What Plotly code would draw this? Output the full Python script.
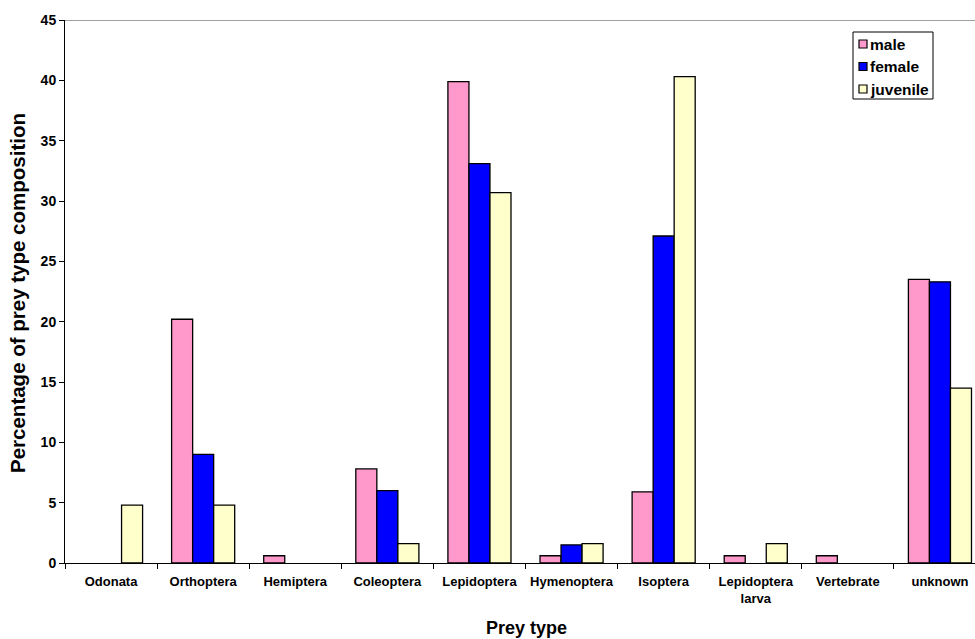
import plotly.graph_objects as go

categories = ["Odonata", "Orthoptera", "Hemiptera", "Coleoptera", "Lepidoptera",
              "Hymenoptera", "Isoptera", "Lepidoptera<br>larva", "Vertebrate", "unknown"]
male = [0, 20.2, 0.6, 7.8, 39.9, 0.6, 5.9, 0.6, 0.6, 23.5]
female = [0, 9.0, 0, 6.0, 33.1, 1.5, 27.1, 0, 0, 23.3]
juvenile = [4.8, 4.8, 0, 1.6, 30.7, 1.6, 40.3, 1.6, 0, 14.5]
series_names = ["male", "female", "juvenile"]
colors = ["#FF99CC", "#0000FF", "#FFFFCC"]

font_family = "Liberation Sans, Arial, sans-serif"

# page pixel positions of the plot area (it runs past the right edge, as in the reference)
PLOT_L, PLOT_R, PLOT_T, PLOT_B = 65, 986, 20, 563
W, H = 988, 639
ML, MT = PLOT_L, PLOT_T
MR = W - PLOT_R
MB = H - PLOT_B
PW, PH = PLOT_R - PLOT_L, PLOT_B - PLOT_T


def px(x):
    return (x - PLOT_L) / PW


def py(y):
    return (PLOT_B - y) / PH


fig = go.Figure()
for name, vals, col in zip(series_names, [male, female, juvenile], colors):
    fig.add_trace(go.Bar(
        x=categories, y=vals, name=name, showlegend=False,
        marker=dict(color=col,
                    line=dict(color="#000000", width=[1.3 if v > 0 else 0 for v in vals])),
    ))

fig.update_layout(
    width=W, height=H,
    margin=dict(l=ML, r=MR, t=MT, b=MB, autoexpand=False),
    paper_bgcolor="white", plot_bgcolor="white",
    barmode="group", bargap=0.315, bargroupgap=0,
    font=dict(family=font_family, color="#000000"),
    showlegend=False,
    xaxis=dict(
        showline=True, linecolor="#000000", linewidth=1,
        ticks="outside", tickson="boundaries", ticklen=5, tickcolor="#000000",
        tickfont=dict(size=13, family=font_family, weight="bold"), tickangle=0,
        ticklabelstandoff=6,
        showgrid=False, automargin=False,
    ),
    yaxis=dict(
        range=[0, 45], dtick=5, showline=True, linecolor="#000000", linewidth=1,
        ticks="outside", ticklen=5, tickcolor="#000000",
        tickfont=dict(size=14, family=font_family, weight="bold"),
        showgrid=False, zeroline=False, automargin=False,
    ),
)

# axis titles
fig.add_annotation(text="Percentage of prey type composition", xref="paper", yref="paper",
                   x=px(18), y=py(293), textangle=-90, showarrow=False,
                   xanchor="center", yanchor="middle",
                   font=dict(size=20.5, family=font_family, weight="bold"))
fig.add_annotation(text="Prey type", xref="paper", yref="paper",
                   x=px(526), y=py(628), showarrow=False,
                   xanchor="center", yanchor="middle",
                   font=dict(size=18, family=font_family, weight="bold"))

# top border line
fig.add_shape(type="line", xref="paper", yref="y", x0=0, x1=1, y0=45, y1=45,
              line=dict(color="#808080", width=1.5))

# legend box
fig.add_shape(type="rect", xref="paper", yref="paper",
              x0=px(853), x1=px(933), y0=py(32), y1=py(99),
              line=dict(color="#000000", width=1), fillcolor="white")
for i, (name, col) in enumerate(zip(series_names, colors)):
    cy = 44 + i * 22.5
    fig.add_shape(type="rect", xref="paper", yref="paper",
                  x0=px(859), x1=px(867), y0=py(cy - 4), y1=py(cy + 4),
                  line=dict(color="#000000", width=1.2), fillcolor=col)
    fig.add_annotation(text=name, xref="paper", yref="paper",
                       x=px(868), y=py(cy), showarrow=False,
                       xanchor="left", yanchor="middle",
                       font=dict(size=15.5, family=font_family, weight="bold"))

fig.write_html(
    "out.html",
    config={"displayModeBar": False},
    post_script="document.body.style.margin='0';document.body.style.overflow='hidden';",
)
